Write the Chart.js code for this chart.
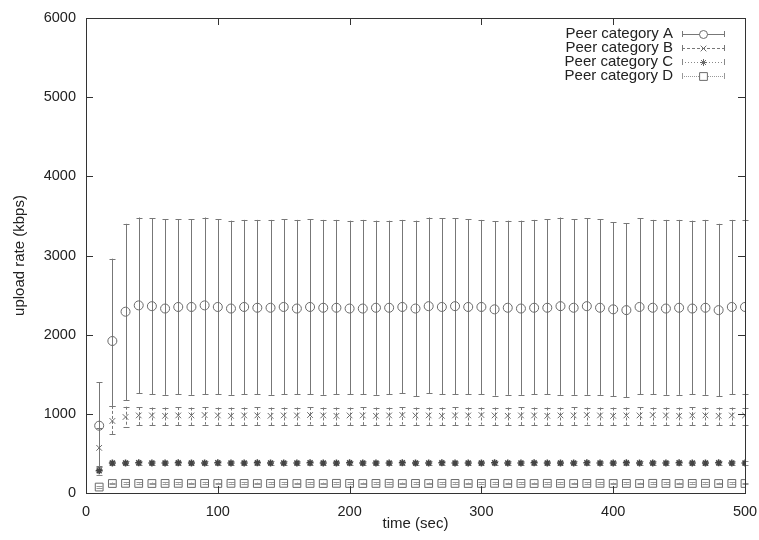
<!DOCTYPE html>
<html><head><meta charset="utf-8">
<script src="https://cdn.jsdelivr.net/npm/chart.js@4/dist/chart.umd.min.js"></script>
<style>html,body{margin:0;padding:0;background:#fff}#wrap{width:759px;height:540px}</style>
</head><body><div id="wrap"><canvas id="c" width="759" height="540"></canvas></div>
<script>
const times = [10,20,30,40,50,60,70,80,90,100,110,120,130,140,150,160,170,180,190,200,210,220,230,240,250,260,270,280,290,300,310,320,330,340,350,360,370,380,390,400,410,420,430,440,450,460,470,480,490,500];
const xTicks = [0,100,200,300,400,500];
const yTicks = [0,1000,2000,3000,4000,5000,6000];
const seriesNames = ['Peer category A','Peer category B','Peer category C','Peer category D'];

const catA = [850,1920,2290,2370,2360,2330,2350,2350,2370,2350,2330,2350,2340,2340,2350,2330,2350,2340,2340,2330,2330,2340,2340,2350,2330,2360,2350,2360,2350,2350,2320,2340,2330,2340,2340,2360,2340,2360,2340,2320,2310,2350,2340,2330,2340,2330,2340,2310,2350,2350];
const catAHigh = [1400,2960,3400,3480,3470,3460,3460,3460,3480,3460,3440,3450,3450,3450,3460,3450,3460,3450,3450,3440,3450,3440,3440,3450,3440,3480,3470,3470,3460,3450,3430,3440,3440,3450,3460,3480,3460,3470,3460,3420,3410,3470,3450,3450,3450,3440,3450,3400,3450,3450];
const catALow = [300,1100,1170,1260,1250,1240,1250,1240,1250,1250,1240,1250,1250,1240,1250,1250,1250,1240,1250,1250,1250,1240,1250,1260,1220,1260,1250,1250,1250,1250,1230,1240,1240,1250,1250,1240,1240,1240,1240,1220,1210,1250,1250,1240,1240,1250,1240,1220,1250,1250];

const catB = [570,910,960,980,980,975,980,980,985,980,975,980,980,975,980,980,985,980,975,980,980,975,980,985,980,980,975,980,980,985,980,975,980,980,975,980,980,985,980,975,980,980,985,980,975,980,980,975,980,980];
const catBHigh = [820,1100,1090,1085,1080,1080,1085,1080,1085,1080,1080,1080,1085,1080,1080,1080,1085,1080,1080,1080,1085,1080,1080,1085,1080,1080,1080,1085,1080,1080,1080,1080,1085,1080,1080,1080,1085,1080,1080,1080,1080,1085,1080,1080,1080,1085,1080,1080,1080,1080];
const catBLow = [340,740,840,860,860,855,860,860,865,860,855,860,860,855,860,860,865,860,855,860,860,855,860,865,860,860,855,860,860,865,860,855,860,860,855,860,860,865,860,855,860,860,865,860,855,860,860,855,860,860];

const catC = [280,380,380,382,380,380,381,380,380,382,380,380,381,380,380,380,382,380,380,381,380,380,380,382,380,380,381,380,380,380,382,380,380,381,380,380,380,382,380,380,381,380,380,380,382,380,380,381,380,380];
const catCHigh = [330,405,405,407,405,405,406,405,405,407,405,405,406,405,405,405,407,405,405,406,405,405,405,407,405,405,406,405,405,405,407,405,405,406,405,405,405,407,405,405,406,405,405,405,407,405,405,406,405,405];
const catCLow = [230,355,355,357,355,355,356,355,355,357,355,355,356,355,355,355,357,355,355,356,355,355,355,357,355,355,356,355,355,355,357,355,355,356,355,355,355,357,355,355,356,355,355,355,357,355,355,356,355,355];

const catD = [75,120,122,121,120,121,122,120,121,120,122,121,120,121,122,120,121,120,122,121,120,121,122,120,121,120,122,121,120,121,122,120,121,120,122,121,120,121,122,120,121,120,122,121,120,121,122,120,121,120];
const catDHigh = [87,132,134,133,132,133,134,132,133,132,134,133,132,133,134,132,133,132,134,133,132,133,134,132,133,132,134,133,132,133,134,132,133,132,134,133,132,133,134,132,133,132,134,133,132,133,134,132,133,132];
const catDLow = [63,108,110,109,108,109,110,108,109,108,110,109,108,109,110,108,109,108,110,109,108,109,110,108,109,108,110,109,108,109,110,108,109,108,110,109,108,109,110,108,109,108,110,109,108,109,110,108,109,108];

const INK = '#333';
const GRAY = '#6a6a6a';
const FONT = '"Liberation Sans", Arial, sans-serif';

function pts(vals){ return times.map((t,i)=>({x:t,y:vals[i]})); }

const errStyles = [
  {lo:catALow, hi:catAHigh, dash:[], color:'#777'},
  {lo:catBLow, hi:catBHigh, dash:[3,2], color:'#777'},
  {lo:catCLow, hi:catCHigh, dash:[1,2], color:'#888'},
  {lo:catDLow, hi:catDHigh, dash:[1,1], color:'#999'}
];

const errPlugin = {
  id:'err',
  beforeDatasetsDraw(chart){
    const {ctx, scales:{x,y}} = chart;
    ctx.save();
    ctx.lineWidth = 1;
    errStyles.forEach(s=>{
      ctx.strokeStyle = s.color;
      times.forEach((t,i)=>{
        const px = Math.round(x.getPixelForValue(t))+0.5;
        const y1 = y.getPixelForValue(s.hi[i]);
        const y2 = y.getPixelForValue(s.lo[i]);
        ctx.setLineDash(s.dash);
        ctx.beginPath(); ctx.moveTo(px,y1); ctx.lineTo(px,y2); ctx.stroke();
        ctx.setLineDash([]);
        ctx.beginPath();
        ctx.moveTo(px-3,Math.round(y1)+0.5); ctx.lineTo(px+3,Math.round(y1)+0.5);
        ctx.moveTo(px-3,Math.round(y2)+0.5); ctx.lineTo(px+3,Math.round(y2)+0.5);
        ctx.stroke();
      });
    });
    ctx.restore();
  }
};

const framePlugin = {
  id:'frame',
  afterDatasetsDraw(chart){
    const {ctx, chartArea:a, scales:{x,y}} = chart;
    ctx.save();
    ctx.strokeStyle = INK; ctx.lineWidth = 1;
    ctx.strokeRect(Math.round(a.left)+0.5, Math.round(a.top)+0.5, Math.round(a.right-a.left), Math.round(a.bottom-a.top));
    ctx.beginPath();
    xTicks.forEach(v=>{
      const px = Math.round(x.getPixelForValue(v))+0.5;
      ctx.moveTo(px,a.bottom); ctx.lineTo(px,a.bottom-7);
      ctx.moveTo(px,a.top); ctx.lineTo(px,a.top+7);
    });
    yTicks.forEach(v=>{
      const py = Math.round(y.getPixelForValue(v))+0.5;
      ctx.moveTo(a.left,py); ctx.lineTo(a.left+7,py);
      ctx.moveTo(a.right,py); ctx.lineTo(a.right-7,py);
    });
    ctx.stroke();
    // legend
    ctx.font = '15px ' + FONT;
    ctx.fillStyle = '#222';
    ctx.textAlign = 'right'; ctx.textBaseline = 'middle';
    const rowY = [34,48,62,76];
    const styles = ['circle','crossRot','star','rect'];
    const radii = [4,4,3.5,5.5];
    seriesNames.forEach((n,i)=>{
      const yy = rowY[i];
      ctx.fillText(n, 673, yy);
      const s = errStyles[i];
      ctx.strokeStyle = s.color;
      ctx.setLineDash(s.dash);
      ctx.beginPath(); ctx.moveTo(682,yy+0.5); ctx.lineTo(725,yy+0.5); ctx.stroke();
      ctx.setLineDash([]);
      ctx.beginPath();
      ctx.moveTo(682.5,yy-3); ctx.lineTo(682.5,yy+3);
      ctx.moveTo(724.5,yy-3); ctx.lineTo(724.5,yy+3);
      ctx.stroke();
      ctx.strokeStyle = GRAY; ctx.fillStyle = '#fff';
      Chart.helpers.drawPoint(ctx,{pointStyle:styles[i],radius:radii[i],borderWidth:1,rotation:0},703.5,yy+0.5);
      ctx.fillStyle = '#222';
    });
    ctx.restore();
  }
};

const tickFont = {family:FONT, size:14.5};
const titleFont = {family:FONT, size:15};

new Chart(document.getElementById('c'), {
  type:'scatter',
  data:{datasets:[
    {label:seriesNames[0], data:pts(catA), pointStyle:'circle', pointRadius:4.5, borderColor:GRAY, backgroundColor:'rgba(255,255,255,0)', borderWidth:1},
    {label:seriesNames[1], data:pts(catB), pointStyle:'crossRot', pointRadius:4, borderColor:GRAY, backgroundColor:'rgba(0,0,0,0)', borderWidth:1},
    {label:seriesNames[2], data:pts(catC), pointStyle:'star', pointRadius:3.5, borderColor:'#444', backgroundColor:'rgba(0,0,0,0)', borderWidth:1.5},
    {label:seriesNames[3], data:pts(catD), pointStyle:'rect', pointRadius:5.5, borderColor:GRAY, backgroundColor:'rgba(255,255,255,0)', borderWidth:1}
  ]},
  options:{
    responsive:false, animation:false, devicePixelRatio:1,
    layout:{padding:{top:18,right:14,left:0,bottom:0}},
    plugins:{legend:{display:false}, tooltip:{enabled:false}},
    scales:{
      x:{type:'linear', min:0, max:500,
        afterBuildTicks(s){ s.ticks = xTicks.map(v=>({value:v})); },
        afterFit(s){ s.height = 47; s.paddingRight = 0; s.paddingLeft = 0; },
        grid:{display:false, drawTicks:false}, border:{display:false},
        ticks:{font:tickFont, color:'#222', padding:10, maxRotation:0, callback:v=>String(v)},
        title:{display:true, text:'time (sec)', font:titleFont, color:'#222', padding:{top:0,bottom:7}}
      },
      y:{type:'linear', min:0, max:6000,
        afterBuildTicks(s){ s.ticks = yTicks.map(v=>({value:v})); },
        afterFit(s){ s.width = 86; s.paddingTop = 0; s.paddingBottom = 0; },
        grid:{display:false, drawTicks:false}, border:{display:false},
        ticks:{font:tickFont, color:'#222', padding:10, callback:v=>String(v)},
        title:{display:true, text:'upload rate (kbps)', font:titleFont, color:'#222', padding:{top:11,bottom:0}}
      }
    }
  },
  plugins:[errPlugin, framePlugin]
});
</script></body></html>
